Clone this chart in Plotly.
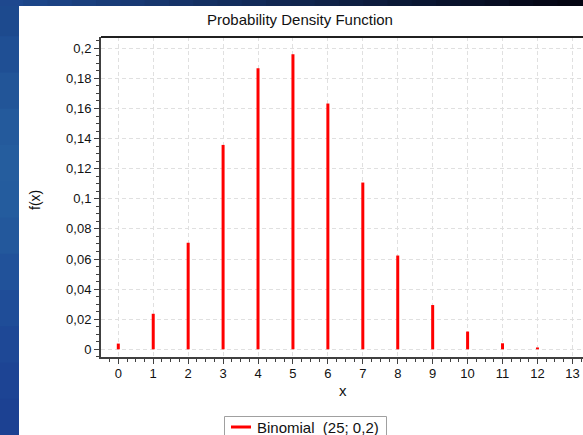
import plotly.graph_objects as go

# Data
x_values = [0, 1, 2, 3, 4, 5, 6, 7, 8, 9, 10, 11, 12]
pmf_values = [0.0038, 0.0236, 0.0708, 0.1358, 0.1867, 0.1960, 0.1633,
              0.1108, 0.0623, 0.0294, 0.0118, 0.0040, 0.0012]
series_name = "Binomial  (25; 0,2)"
x_tick_vals = list(range(0, 14))
y_tick_vals = [0, 0.02, 0.04, 0.06, 0.08, 0.1, 0.12, 0.14, 0.16, 0.18, 0.2]

W, H = 583, 435
L, R, T, B = 101, 0, 37, 78
pw, ph = W - L - R, H - T - B
series_color = "#ff0000"

# stems
sx, sy = [], []
for xv, yv in zip(x_values, pmf_values):
    sx += [xv, xv, None]
    sy += [0, yv, None]

fig = go.Figure()
fig.add_trace(go.Scatter(x=sx, y=sy, mode="lines", name=series_name,
                         line=dict(color=series_color, width=3),
                         showlegend=False, hoverinfo="skip"))

def px2paper_x(px):
    return (px - L) / pw

def px2paper_y(py):
    return (H - B - py) / ph

shapes = []
# left blue strip (vertical gradient)
left_cols = ["#1d4a8e", "#1f4f94", "#225598", "#245a9c", "#255d9e", "#245c9e",
             "#23589c", "#21529a", "#1f4d98", "#1e4896", "#1d4494", "#1c4192"]
n = len(left_cols)
for i in range(n):
    y0 = i * H / n
    y1 = (i + 1) * H / n + 2
    shapes.append(dict(type="rect", xref="paper", yref="paper", layer="below",
                       x0=px2paper_x(-2), x1=px2paper_x(19),
                       y0=px2paper_y(y1), y1=px2paper_y(y0),
                       fillcolor=left_cols[i], line=dict(width=0)))
# top strip (horizontal gradient blue -> black)
m = 24
for i in range(m):
    t = i / (m - 1)
    r = int(0x1e * (1 - t) + 0x04 * t)
    g = int(0x48 * (1 - t) + 0x05 * t)
    b = int(0x8e * (1 - t) + 0x12 * t)
    shapes.append(dict(type="rect", xref="paper", yref="paper", layer="below",
                       x0=px2paper_x(i * W / m - 1), x1=px2paper_x((i + 1) * W / m + 2),
                       y0=px2paper_y(6), y1=px2paper_y(-2),
                       fillcolor=f"rgb({r},{g},{b})", line=dict(width=0)))
# top frame line
shapes.append(dict(type="line", xref="paper", yref="paper",
                   x0=0, x1=1, y0=1, y1=1, line=dict(color="#202020", width=2)))
# legend box + swatch
shapes.append(dict(type="rect", xref="paper", yref="paper",
                   x0=px2paper_x(224.5), x1=px2paper_x(386.5),
                   y0=px2paper_y(445), y1=px2paper_y(416.5),
                   fillcolor="white", line=dict(color="#a0a0a0", width=1)))
shapes.append(dict(type="line", xref="paper", yref="paper",
                   x0=px2paper_x(231), x1=px2paper_x(251),
                   y0=px2paper_y(427), y1=px2paper_y(427),
                   line=dict(color=series_color, width=3)))

font_family = "Liberation Sans, Arial, sans-serif"

fig.update_layout(
    width=W, height=H,
    margin=dict(l=L, r=R, t=T, b=B, autoexpand=False),
    paper_bgcolor="white",
    plot_bgcolor="white",
    separators=",.",
    font=dict(family=font_family, size=12, color="#111111"),
    title=dict(text="Probability Density Function", x=px2paper_x(300), xref="paper",
               xanchor="center", y=1 - 20 / H, yanchor="middle",
               font=dict(size=15, color="#111111", family=font_family)),
    shapes=shapes,
    showlegend=False,
    annotations=[
        dict(text="f(x)", x=px2paper_x(35), y=px2paper_y(200), xref="paper", yref="paper",
             xanchor="center", yanchor="middle",
             showarrow=False, textangle=-90, font=dict(size=14, family=font_family, color="#111111")),
        dict(text="x", x=px2paper_x(343), y=px2paper_y(390), xref="paper", yref="paper",
             xanchor="center", yanchor="middle",
             showarrow=False, font=dict(size=15, family=font_family, color="#111111")),
        dict(text=series_name.replace("  ", " \u00a0"), x=px2paper_x(255), y=px2paper_y(427),
             xref="paper", yref="paper", xanchor="left", yanchor="middle",
             showarrow=False, font=dict(size=15, family=font_family, color="#111111")),
    ],
)

x_lo = (101 - 118.3) / 34.93
x_hi = (583 - 118.3) / 34.93
fig.update_xaxes(
    range=[x_lo, x_hi], tickmode="array", tickvals=x_tick_vals,
    ticks="outside", ticklen=5, tickcolor="#404040", tickwidth=1,
    showline=True, linecolor="#404040", linewidth=2,
    showgrid=True, gridcolor="#e0e0e0", griddash="4px,3px", gridwidth=1,
    zeroline=False, automargin=False, ticklabelstandoff=-2,
    minor=dict(dtick=0.25, tick0=0, ticks="outside", ticklen=3, tickcolor="#404040",
               showgrid=False),
    tickfont=dict(size=13, color="#111111"),
    fixedrange=True,
)
y_per_px = 0.2 / (349.3 - 48.3)
y_lo = -(357 - 349.3) * y_per_px
y_hi = (349.3 - 37) * y_per_px
fig.update_yaxes(
    range=[y_lo, y_hi], tickmode="array", tickvals=y_tick_vals,
    ticks="outside", ticklen=5, tickcolor="#404040", tickwidth=1,
    showline=True, linecolor="#404040", linewidth=2,
    showgrid=True, gridcolor="#e0e0e0", griddash="4px,3px", gridwidth=1,
    zeroline=False, automargin=False,
    minor=dict(dtick=0.005, tick0=0, ticks="outside", ticklen=3, tickcolor="#404040",
               showgrid=False),
    tickfont=dict(size=13, color="#111111"),
    fixedrange=True,
)

fig.write_html(
    "out.html",
    config={"displayModeBar": False},
    post_script="document.body.style.margin='0';document.body.style.padding='0';document.body.style.overflow='hidden';",
)
